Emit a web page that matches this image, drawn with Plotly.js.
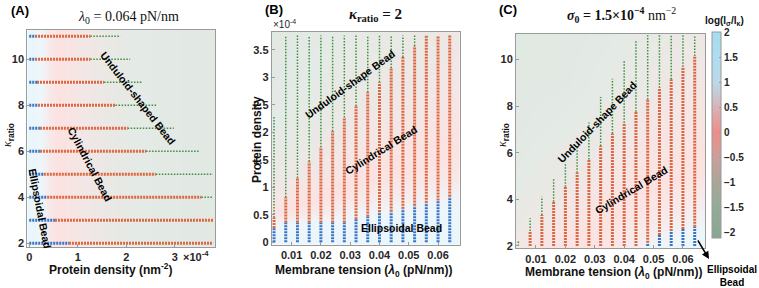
<!DOCTYPE html>
<html><head><meta charset="utf-8">
<script src="https://cdn.plot.ly/plotly-3.0.1.min.js"></script>
<style>html,body{margin:0;padding:0;background:#fff}#chart{width:759px;height:288px}</style>
</head><body><div id="chart"></div>
<script>
// ---------- Panel A: lambda0 = 0.064 pN/nm (protein density in units of 1e-4 nm^-2) ----------
const kappaRowsA      = [2, 3, 4, 5, 6, 7, 8, 9, 10, 11];
const densityStartA   = [0, 0, 0, 0, 0, 0, 0, 0, 0, 0];
const ellipsoidEndA   = [0.82, 0.53, 0.37, 0.30, 0.22, 0.22, 0.18, 0.16, 0.12, 0.12];
const cylinderEndA    = [3.79, 3.79, 3.55, 2.61, 2.41, 2.03, 1.78, 1.54, 1.26, 1.26];
const unduloidEndA    = [3.79, 3.79, 3.79, 3.79, 3.52, 2.98, 2.63, 2.33, 2.08, 1.88];
const xTicksA         = [0, 1, 2, 3];
const xTickTextA      = ['0', '1', '2', '3'];
const yTicksA         = [2, 4, 6, 8, 10];

// ---------- Panel B: kappa_ratio = 2 (protein density in units of 1e-4 nm^-2) ----------
const tensionB        = [0.004, 0.008, 0.012, 0.016, 0.020, 0.024, 0.028, 0.032, 0.036, 0.040, 0.044, 0.048, 0.052, 0.056, 0.060, 0.064];
const densityStartB   = [0, 0, 0, 0, 0, 0, 0, 0, 0, 0, 0, 0, 0, 0, 0, 0];
const ellipsoidTopB   = [0.26, 0.36, 0.36, 0.36, 0.36, 0.36, 0.36, 0.42, 0.47, 0.55, 0.56, 0.61, 0.67, 0.72, 0.76, 0.83];
const cylinderTopB    = [0.45, 0.82, 1.17, 1.47, 1.73, 2.02, 2.27, 2.48, 2.73, 2.91, 3.17, 3.37, 3.57, 3.76, 3.76, 3.76];
const unduloidTopB    = [2.30, 3.76, 3.76, 3.76, 3.76, 3.76, 3.76, 3.76, 3.76, 3.76, 3.76, 3.76, 3.76, 3.76, 3.76, 3.76];
const xTicksBC        = [0.01, 0.02, 0.03, 0.04, 0.05, 0.06];
const yTicksB         = [0, 0.5, 1, 1.5, 2, 2.5, 3, 3.5];

// ---------- Panel C: sigma0 = 1.5e-4 nm^-2 (kappa_ratio) ----------
const tensionC        = [0.004, 0.008, 0.012, 0.016, 0.020, 0.024, 0.028, 0.032, 0.036, 0.040, 0.044, 0.048, 0.052, 0.056, 0.060, 0.064];
const kappaStartC     = [2, 2, 2, 2, 2, 2, 2, 2, 2, 2, 2, 2, 2, 2, 2, 2];
const ellipsoidTopC   = [2, 2, 2, 2, 2, 2, 2, 2, 2, 2, 2, 2.14, 2.47, 2.64, 2.73, 2.83];
const cylinderTopC    = [2, 2.64, 3.33, 3.90, 4.54, 5.14, 5.71, 6.29, 6.83, 7.29, 7.76, 8.29, 8.79, 9.16, 9.69, 10.16];
const unduloidTopC    = [2.23, 3.19, 4.11, 4.90, 5.58, 6.20, 7.30, 8.40, 9.18, 9.96, 10.80, 11.05, 11.05, 11.05, 11.05, 11.05];
const yTicksC         = [2, 4, 6, 8, 10];

// ---------- Background maps: log(l_sigma / l_kappa) ----------
const bgAx = [-0.04, 0.15, 0.30, 0.45, 0.65, 1.0, 1.5, 2.2, 3.0, 3.83];
const bgAy = [1.85, 11.27];
const bgAz = [
  [2.0, 1.5, 0.8, 0.2, 0.0, -0.4, -0.9, -1.5, -1.8, -2.0],
  [2.0, 1.5, 0.8, 0.2, 0.0, -0.4, -0.9, -1.5, -1.8, -2.0]
];
const bgBx = [0.0032, 0.035, 0.0675];
const bgBy = [-0.05, 0.3, 0.5, 0.8, 1.2, 2.0, 3.0, 3.83];
const bgBz = [
  [1.7, 1.9, 2.0],
  [1.0, 1.5, 1.7],
  [0.1, 1.0, 1.3],
  [-0.4, 0.4, 0.9],
  [-0.9, 0.0, 0.3],
  [-1.5, -0.5, -0.1],
  [-1.9, -1.0, -0.5],
  [-2.1, -1.3, -0.8]
];
const bgCx = [0.0032, 0.02, 0.035, 0.05, 0.0675];
const bgCy = [1.9, 3, 5, 7, 9, 11.1];
const bgCz = [
  [-0.4, 0.0, 0.2, 0.9, 1.6],
  [-1.0, -0.3, 0.0, 0.4, 0.9],
  [-1.6, -0.9, -0.3, -0.1, 0.1],
  [-1.9, -1.5, -0.9, -0.4, -0.2],
  [-2.0, -1.9, -1.4, -0.8, -0.5],
  [-2.1, -2.0, -1.7, -1.2, -0.8]
];
const cbTicks = [-2, -1.5, -1, -0.5, 0, 0.5, 1, 1.5, 2];

// ---------- helpers ----------
const W = 759, H = 288;
const px = v => v / W, py = v => 1 - v / H;
const BLUE = '#3b74c2', ORANGE = '#dd6741', GREEN = '#3c8f3f';
const SANS = 'Liberation Sans, Arial, sans-serif';
const SERIF = 'Liberation Serif, DejaVu Serif, serif';

function hSeg(starts, ends, rows) {
  const x = [], y = [];
  for (let i = 0; i < rows.length; i++) {
    if (ends[i] > starts[i]) { x.push(starts[i], ends[i], null); y.push(rows[i], rows[i], null); }
  }
  return {x, y};
}
function vSeg(starts, ends, cols) {
  const x = [], y = [];
  for (let i = 0; i < cols.length; i++) {
    if (ends[i] > starts[i]) { x.push(cols[i], cols[i], null); y.push(starts[i], ends[i], null); }
  }
  return {x, y};
}
function seg(s, color, width, dash, xa, ya) {
  return {type: 'scatter', mode: 'lines', x: s.x, y: s.y, xaxis: xa, yaxis: ya,
    line: {color: color, width: width, dash: dash}, hoverinfo: 'skip', connectgaps: false};
}
function heat(x, y, z, xa, ya) {
  return {type: 'heatmap', x: x, y: y, z: z, xaxis: xa, yaxis: ya, coloraxis: 'coloraxis',
    zsmooth: 'best', opacity: 0.25, hoverinfo: 'skip'};
}

const traces = [
  heat(bgAx, bgAy, bgAz, 'x', 'y'),
  heat(bgBx, bgBy, bgBz, 'x2', 'y2'),
  heat(bgCx, bgCy, bgCz, 'x3', 'y3'),
  seg(hSeg(densityStartA, ellipsoidEndA, kappaRowsA), BLUE, 3, '2px,1px', 'x', 'y'),
  seg(hSeg(ellipsoidEndA, cylinderEndA, kappaRowsA), ORANGE, 3, '2px,1px', 'x', 'y'),
  seg(hSeg(cylinderEndA, unduloidEndA, kappaRowsA), GREEN, 1.5, '1.5px,1.5px', 'x', 'y'),
  seg(vSeg(densityStartB, ellipsoidTopB, tensionB), BLUE, 3, '2px,1px', 'x2', 'y2'),
  seg(vSeg(ellipsoidTopB, cylinderTopB, tensionB), ORANGE, 3, '2px,1px', 'x2', 'y2'),
  seg(vSeg(cylinderTopB, unduloidTopB, tensionB), GREEN, 1.5, '1.5px,1.5px', 'x2', 'y2'),
  seg(vSeg(kappaStartC, ellipsoidTopC, tensionC), BLUE, 3, '2px,1px', 'x3', 'y3'),
  seg(vSeg(ellipsoidTopC, cylinderTopC, tensionC), ORANGE, 3, '2px,1px', 'x3', 'y3'),
  seg(vSeg(cylinderTopC, unduloidTopC, tensionC), GREEN, 1.5, '1.5px,1.5px', 'x3', 'y3')
];

const tickFont = {family: SANS, size: 11, color: '#262626', weight: 'bold'};
function axis(domain, range, tickvals, ticktext, anchor) {
  const a = {domain: domain, range: range, tickvals: tickvals, anchor: anchor,
    showgrid: false, zeroline: false, showline: true, mirror: true,
    linecolor: '#9a9a9a', linewidth: 1, ticks: 'inside', ticklen: 3, tickcolor: '#9a9a9a',
    tickfont: tickFont, fixedrange: true};
  if (ticktext) a.ticktext = ticktext;
  return a;
}

function note(text, x, y, opts) {
  return Object.assign({text: text, x: px(x), y: py(y), xref: 'paper', yref: 'paper',
    showarrow: false, xanchor: 'center', yanchor: 'middle',
    font: {family: SANS, size: 12, color: '#111', weight: 'bold'}}, opts || {});
}
const beadFont = {family: SANS, size: 10.5, color: '#000', weight: 'bold'};

const annotations = [
  note('(A)', 20, 11, {font: {family: SANS, size: 13, color: '#000', weight: 'bold'}}),
  note('(B)', 274, 10, {font: {family: SANS, size: 13, color: '#000', weight: 'bold'}}),
  note('(C)', 508, 10, {font: {family: SANS, size: 13, color: '#000', weight: 'bold'}}),
  note('<i>λ</i><sub>0</sub> = 0.064 pN/nm', 128, 17, {font: {family: SERIF, size: 14, color: '#111'}}),
  note('<b><i>κ</i><sub>ratio</sub> = 2</b>', 375, 15, {font: {family: SERIF, size: 15, color: '#111'}}),
  note('<b><i>σ</i><sub>0</sub> = 1.5×10<sup>−4</sup></b> nm<sup>−2</sup>', 621, 15, {font: {family: SERIF, size: 14, color: '#111'}}),
  note('Protein density (nm<sup>-2</sup>)', 111, 269),
  note('Membrane tension (<i>λ</i><sub>0</sub> (pN/nm))', 363, 271),
  note('Membrane tension (<i>λ</i><sub>0</sub> (pN/nm))', 613, 273),
  note('<span style="font-family:Liberation Serif;font-weight:normal"><i>κ</i></span><sub>ratio</sub>', 8, 135, {textangle: -90}),
  note('Protein density', 257, 140, {textangle: -90}),
  note('<span style="font-family:Liberation Serif;font-weight:normal"><i>κ</i></span><sub>ratio</sub>', 503, 135, {textangle: -90}),
  note('×10<sup>-4</sup>', 196, 256, {font: tickFont}),
  note('×10<sup>-4</sup>', 284, 24, {font: {family: SANS, size: 10, color: '#262626'}}),
  note('log(l<sub>σ</sub>/l<sub>κ</sub>)', 724, 21, {font: {family: SANS, size: 10, color: '#111', weight: 'bold'}}),
  note('Unduloid-shaped Bead', 138, 98, {textangle: 52, font: beadFont}),
  note('Cylindrical Bead', 90, 164, {textangle: 62, font: beadFont}),
  note('Ellipsoidal Bead', 40, 208, {textangle: 79, font: beadFont}),
  note('Unduloid-shape Bead', 350, 84, {textangle: -36, font: beadFont}),
  note('Cylindrical Bead', 381, 150, {textangle: -32, font: beadFont}),
  note('Ellipsoidal Bead', 401, 228, {font: beadFont}),
  note('Unduloid-shape Bead', 597, 122, {textangle: -46, font: beadFont}),
  note('Cylindrical Bead', 631, 190, {textangle: -31, font: beadFont}),
  note('Ellipsoidal<br>Bead', 732, 276, {font: {family: SANS, size: 10, color: '#000', weight: 'bold'}}),
  {x: px(709), y: py(259), xref: 'paper', yref: 'paper', text: '', showarrow: true,
   ax: -12, ay: -20, arrowhead: 2, arrowsize: 1, arrowwidth: 1.5, arrowcolor: '#000'}
];

const layout = {
  width: W, height: H, margin: {l: 0, r: 0, t: 0, b: 0},
  paper_bgcolor: '#fff', plot_bgcolor: '#fff', showlegend: false,
  font: {family: SANS, size: 11, color: '#262626'},
  xaxis:  axis([px(27.3), px(215)], [-0.04, 3.83], xTicksA, xTickTextA, 'y'),
  yaxis:  axis([py(246.7), py(30)], [1.85, 11.27], yTicksA, null, 'x'),
  xaxis2: axis([px(271.7), px(460)], [0.0032, 0.0675], xTicksBC, null, 'y2'),
  yaxis2: axis([py(245), py(31.7)], [-0.05, 3.83], yTicksB, null, 'x2'),
  xaxis3: axis([px(516), px(705)], [0.0032, 0.0675], xTicksBC, null, 'y3'),
  yaxis3: axis([py(248.3), py(34)], [1.9, 11.1], yTicksC, null, 'x3'),
  coloraxis: {
    cmin: -2.12, cmax: 2,
    colorscale: [
      [0, '#88a78f'], [0.15, '#94ab98'], [0.272, '#aaa597'], [0.393, '#cc9f9b'],
      [0.515, '#ee8d88'], [0.636, '#d7b3b8'], [0.709, '#c4ccd8'], [0.757, '#bcd8e8'],
      [0.879, '#afdcf0'], [1, '#a5dbf0']
    ],
    colorbar: {
      x: px(712.3), xanchor: 'left', xpad: 0, y: py(238.3), yanchor: 'bottom', ypad: 0,
      len: (238.3 - 32.3) / H, lenmode: 'fraction', thickness: 8.5, thicknessmode: 'pixels',
      outlinewidth: 1, outlinecolor: '#9a9a9a', tickvals: cbTicks,
      ticks: 'inside', ticklen: 2, tickcolor: '#9a9a9a',
      tickfont: {family: SANS, size: 10, color: '#262626', weight: 'bold'}
    }
  },
  annotations: annotations
};

Plotly.newPlot('chart', traces, layout, {staticPlot: true, displayModeBar: false});
</script>
</body></html>
